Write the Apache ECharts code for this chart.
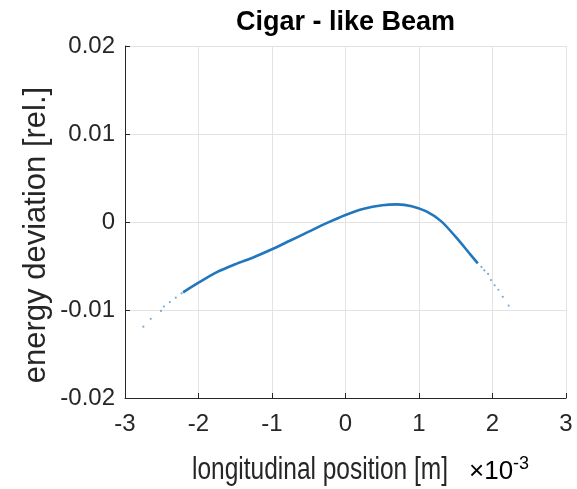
<!DOCTYPE html>
<html><head><meta charset="utf-8">
<script src="https://cdn.jsdelivr.net/npm/echarts@6/dist/echarts.min.js"></script>
<style>html,body{margin:0;padding:0;background:#fff}#c{width:577px;height:489px}</style>
</head><body><div id="c"></div>
<script>
var titleText = 'Cigar - like Beam';
var xName = 'longitudinal position [m]';
var yName = 'energy deviation [rel.]';
var xTicks = [-3, -2, -1, 0, 1, 2, 3];
var yTicks = [-0.02, -0.01, 0, 0.01, 0.02];
// dense core of the beam (x in 1e-3 m, energy deviation)
var coreX = [-2.21, -2.0, -1.75, -1.5, -1.25, -1.0, -0.75, -0.5, -0.25, 0.0, 0.25, 0.5, 0.7, 0.9, 1.1, 1.3, 1.5, 1.7, 1.8];
var coreY = [-0.0080, -0.0069, -0.0057, -0.0048, -0.0040, -0.0031, -0.0021, -0.0011, -0.0001, 0.0008, 0.0015, 0.0019, 0.0020, 0.0018, 0.0012, 0.0001, -0.0017, -0.0037, -0.0047];
// sparse particles in the tails
var tailX = [-2.75, -2.65, -2.51, -2.47, -2.39, -2.31, -2.23, 1.85, 1.89, 1.94, 1.98, 2.03, 2.08, 2.14, 2.22];
var tailY = [-0.0119, -0.0110, -0.0101, -0.0096, -0.0091, -0.0086, -0.0081, -0.0051, -0.0055, -0.0059, -0.0066, -0.0072, -0.0077, -0.0085, -0.0095];

function pairs(a, b) { return a.map(function (v, i) { return [v, b[i]]; }); }
var fam = 'Liberation Sans, Arial, Helvetica, sans-serif';
var ink = '#262626';

var chart = echarts.init(document.getElementById('c'), null, {renderer: 'canvas'});
chart.setOption({
  animation: false,
  grid: {left: 125, right: 11, top: 46, bottom: 91, containLabel: false},
  xAxis: {
    type: 'value', min: xTicks[0], max: xTicks[xTicks.length - 1], interval: 1,
    axisLine: {show: true, onZero: false, lineStyle: {color: ink, width: 1}},
    axisTick: {show: true, inside: true, length: 5, lineStyle: {color: ink}},
    axisLabel: {color: ink, fontSize: 24, fontFamily: fam, margin: 14},
    splitLine: {show: true, lineStyle: {color: '#e3e3e3', width: 1}}
  },
  yAxis: {
    type: 'value', min: yTicks[0], max: yTicks[yTicks.length - 1], interval: 0.01,
    axisLine: {show: true, onZero: false, lineStyle: {color: ink, width: 1}},
    axisTick: {show: true, inside: true, length: 5, lineStyle: {color: ink}},
    axisLabel: {color: ink, fontSize: 24, fontFamily: fam, margin: 10,
      formatter: function (v) { return String(Math.round(v * 100) / 100); }},
    splitLine: {show: true, lineStyle: {color: '#e3e3e3', width: 1}}
  },
  series: [
    {type: 'line', data: pairs(coreX, coreY), smooth: 0.3, showSymbol: false,
     lineStyle: {color: '#2277bc', width: 2.6}, z: 3},
    {type: 'scatter', data: pairs(tailX, tailY), symbolSize: 2.2,
     itemStyle: {color: '#5b97c8'}, z: 2}
  ],
  graphic: [
    {type: 'text', x: 345.5, y: 23, style: {text: titleText, fill: '#000', font: 'bold 27px ' + fam, align: 'center', verticalAlign: 'middle'}},
    {type: 'text', x: 36, y: 235, rotation: Math.PI / 2, style: {text: yName, fill: ink, font: '31px ' + fam, align: 'center', verticalAlign: 'middle'}},
    {type: 'text', x: 320, y: 470, scaleX: 0.79, style: {text: xName, fill: ink, font: '31px ' + fam, align: 'center', verticalAlign: 'middle'}},
    {type: 'text', x: 469, y: 472, style: {
      text: '{a|\u00d710}{b|-3}', align: 'left', verticalAlign: 'middle',
      rich: {a: {fontSize: 26, fontFamily: fam, color: ink},
             b: {fontSize: 18, fontFamily: fam, color: ink, verticalAlign: 'top', padding: [0, 0, 16, 0]}}}}
  ]
});
</script></body></html>
